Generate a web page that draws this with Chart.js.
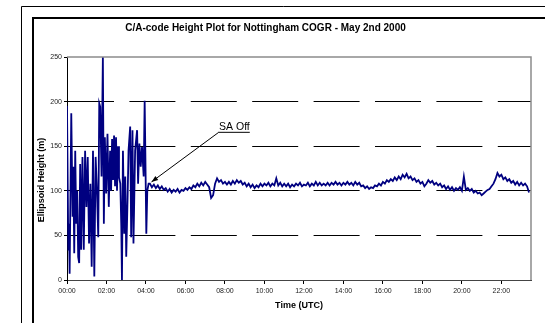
<!DOCTYPE html>
<html>
<head>
<meta charset="utf-8">
<script src="https://cdn.jsdelivr.net/npm/chart.js@4.4.0/dist/chart.umd.min.js"></script>
<style>
html, body { margin: 0; padding: 0; background: #fff; }
#wrap { width: 545px; height: 323px; }
</style>
</head>
<body>
<div id="wrap"><canvas id="myChart" width="545" height="323"></canvas></div>
<script>
// title + axis text
let chart_title = "C/A-code Height Plot for Nottingham COGR - May 2nd 2000";
let x_title = "Time (UTC)";
let y_title = "Ellipsoid Height (m)";
let note_text = "SA Off";

// x ticks (hours) and their labels
let hour_ticks = [0, 2, 4, 6, 8, 10, 12, 14, 16, 18, 20, 22];
let hour_labels = ["00:00", "02:00", "04:00", "06:00", "08:00", "10:00", "12:00", "14:00", "16:00", "18:00", "20:00", "22:00"];

// SA on: minutes after midnight + height (m)
let early_minutes = [0, 4, 6, 8, 13, 17, 19, 22, 25, 28, 31, 34, 37, 40, 43, 47, 51, 55, 59, 63, 67, 71, 75, 79, 83, 87, 91, 95, 98, 101, 105, 109, 112, 115, 119, 123, 127, 131, 134, 137, 140, 143, 146, 149, 152, 155, 158, 162, 165, 167, 170, 174, 177, 180, 184, 187, 192, 195, 199, 202, 207, 213, 216, 220, 224, 228, 233, 236, 238, 241, 244, 248];
let early_heights = [195, 34, 63, 7, 187, 71, 127, 30, 145, 63, 100, 26, 19, 130, 34, 138, 34, 145, 82, 138, 41, 108, 15, 145, 4, 138, 100, 48, 198, 194, 116, 250, 63, 160, 97, 164, 82, 145, 100, 158, 112, 162, 105, 160, 100, 150, 115, 108, 60, 0, 145, 52, 116, 26, 90, 145, 172, 48, 168, 41, 145, 168, 108, 153, 127, 149, 116, 201, 145, 52, 100, 108];

// SA off: one reading every 6 minutes from 04:12
let late_start = 252;
let late_step = 6;
let late_heights = [
  108, 104, 107, 103, 106, 102, 105, 101, 103,
  99, 102, 98, 101, 99, 102, 98, 101, 100, 103,
  101, 104, 102, 106, 104, 108, 105, 109, 106, 110,
  107, 104, 92, 95, 108, 114, 110, 112, 108, 110,
  107, 110, 107, 111, 108, 112, 109, 111, 107, 109,
  105, 108, 104, 107, 103, 106, 104, 108, 105, 108,
  106, 109, 105, 108, 106, 114, 106, 109, 105, 108,
  105, 108, 104, 107, 105, 108, 106, 109, 105, 107,
  106, 109, 105, 108, 106, 110, 106, 109, 106, 108,
  106, 109, 106, 109, 107, 110, 107, 109, 106, 109,
  107, 110, 107, 109, 106, 110, 107, 109, 105, 106,
  103, 105, 102, 104, 103, 106, 105, 108, 106, 110,
  108, 112, 110, 113, 111, 115, 112, 116, 113, 118,
  115, 119, 114, 116, 112, 114, 110, 112, 108, 110,
  105, 108, 112, 109, 111, 107, 109, 106, 108, 104,
  106, 102, 105, 101, 104, 100, 103, 101, 104, 100,
  116, 101, 103, 100, 102, 98, 100, 97, 98, 95,
  97, 99, 101, 102, 105, 108, 113, 120, 116, 118,
  113, 115, 111, 113, 109, 111, 107, 110, 106, 109,
  106, 108, 105, 98
];

let points = [];
early_minutes.forEach((m, i) => {
  points.push({ x: m / 60, y: early_heights[i] });
});
late_heights.forEach((h, i) => {
  points.push({ x: (late_start + i * late_step) / 60, y: h });
});

let font_name = "Arial, 'Liberation Sans', sans-serif";

// page frame, plot border, y title
const frame_plugin = {
  id: "frame",
  beforeDraw(chart) {
    const ctx = chart.ctx;
    ctx.save();
    ctx.fillStyle = "#fff";
    ctx.fillRect(0, 0, chart.width, chart.height);
    ctx.strokeStyle = "#000";
    ctx.lineWidth = 1;
    ctx.beginPath();
    ctx.moveTo(21.5, chart.height);
    ctx.lineTo(21.5, 6.5);
    ctx.lineTo(chart.width, 6.5);
    ctx.stroke();
    ctx.lineWidth = 2;
    ctx.beginPath();
    ctx.moveTo(33, chart.height);
    ctx.lineTo(33, 18);
    ctx.lineTo(chart.width, 18);
    ctx.stroke();
    ctx.restore();
  },
  afterDraw(chart) {
    const ctx = chart.ctx;
    const a = chart.chartArea;
    ctx.save();
    ctx.strokeStyle = "#8c8c8c";
    ctx.lineWidth = 1.5;
    ctx.beginPath();
    ctx.moveTo(a.left, a.top);
    ctx.lineTo(a.right, a.top);
    ctx.lineTo(a.right, a.bottom);
    ctx.stroke();
    ctx.translate(42, 180);
    ctx.rotate(-Math.PI / 2);
    ctx.fillStyle = "#000";
    ctx.font = "bold 9px " + font_name;
    ctx.textAlign = "center";
    ctx.textBaseline = "middle";
    ctx.fillText(y_title, 0, 0);
    ctx.restore();
  }
};

// "SA Off" callout
const note_plugin = {
  id: "note",
  afterDatasetsDraw(chart) {
    const ctx = chart.ctx;
    const xs = chart.scales.x, ys = chart.scales.y;
    const tipX = xs.getPixelForValue(4.28), tipY = ys.getPixelForValue(110);
    const tailX = xs.getPixelForValue(7.65), tailY = ys.getPixelForValue(165);
    ctx.save();
    ctx.strokeStyle = "#000";
    ctx.fillStyle = "#000";
    ctx.lineWidth = 1;
    ctx.beginPath();
    ctx.moveTo(tailX, tailY);
    ctx.lineTo(tipX, tipY);
    ctx.stroke();
    const ang = Math.atan2(tipY - tailY, tipX - tailX);
    ctx.beginPath();
    ctx.moveTo(tipX, tipY);
    ctx.lineTo(tipX - 7 * Math.cos(ang - 0.35), tipY - 7 * Math.sin(ang - 0.35));
    ctx.lineTo(tipX - 7 * Math.cos(ang + 0.35), tipY - 7 * Math.sin(ang + 0.35));
    ctx.closePath();
    ctx.fill();
    ctx.font = "10.5px " + font_name;
    ctx.textAlign = "left";
    ctx.textBaseline = "alphabetic";
    const tx = tailX + 1, ty = tailY - 3;
    ctx.fillText(note_text, tx, ty);
    const w = ctx.measureText(note_text).width;
    ctx.beginPath();
    ctx.moveTo(tx - 1, ty + 2.5);
    ctx.lineTo(tx + w, ty + 2.5);
    ctx.stroke();
    ctx.restore();
  }
};

new Chart("myChart", {
  type: "line",
  data: {
    datasets: [{
      data: points,
      borderColor: "#000080",
      borderWidth: 1.8,
      pointRadius: 0,
      tension: 0,
      fill: false
    }]
  },
  options: {
    responsive: false,
    animation: false,
    layout: { padding: { left: 0, right: 14, top: 0, bottom: 0 } },
    plugins: {
      legend: { display: false },
      tooltip: { enabled: false },
      title: {
        display: true,
        text: chart_title,
        color: "#000",
        font: { family: font_name, size: 10, weight: "bold" },
        padding: { top: 22, bottom: 23 }
      }
    },
    scales: {
      x: {
        type: "linear",
        min: 0,
        max: 23.5,
        afterFit: (s) => { s.height = 43; },
        afterBuildTicks: (s) => { s.ticks = hour_ticks.map(v => ({ value: v })); },
        ticks: {
          callback: (v, i) => hour_labels[i],
          autoSkip: false,
          maxRotation: 0,
          padding: 3,
          color: "#222",
          font: { family: font_name, size: 7 }
        },
        grid: { drawOnChartArea: false, tickLength: 4, tickColor: "#000" },
        border: { color: "#444", width: 1 },
        title: {
          display: true,
          text: x_title,
          color: "#000",
          font: { family: font_name, size: 9, weight: "bold" },
          padding: { top: 0, bottom: 12 }
        }
      },
      y: {
        min: 0,
        max: 250,
        afterFit: (s) => { s.width = 67; },
        ticks: {
          stepSize: 50,
          padding: 2,
          color: "#222",
          font: { family: font_name, size: 7 }
        },
        grid: {
          color: (c) => (c.tick && c.tick.value > 0 && c.tick.value < 250) ? "#000" : "rgba(0,0,0,0)",
          tickColor: "#000",
          tickLength: 3,
          lineWidth: 1
        },
        border: {
          color: "#000",
          width: 1,
          dash: (c) => c.tick ? [46, 15.4] : []
        }
      }
    }
  },
  plugins: [frame_plugin, note_plugin]
});
</script>
</body>
</html>
